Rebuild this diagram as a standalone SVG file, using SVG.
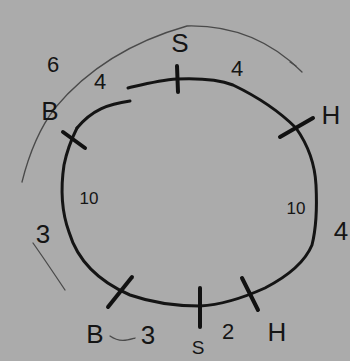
<svg xmlns="http://www.w3.org/2000/svg" width="350" height="361" viewBox="0 0 350 361">
<style>
.ink{fill:none;stroke:#141414;stroke-width:3;stroke-linecap:round;stroke-linejoin:round}
.tick{fill:none;stroke:#111;stroke-width:4;stroke-linecap:round}
.thin{fill:none;stroke:#4a4a4a;stroke-width:1.3;stroke-linecap:round}
.t{font-family:"Liberation Sans",Arial,sans-serif;fill:#151515;text-anchor:middle}
.big{font-size:26px}
.mid{font-size:22px}
.sm{font-size:17px}
</style>
<rect width="350" height="361" fill="#ababab"/>
<g id="outer-arc">
<path class="thin" d="M22,182 C30,150 42,125 55,108 C80,78 120,45 187,26 C230,25 270,40 302,72"/>
<path class="thin" d="M290,62 L296,66"/>
<path class="thin" d="M33,243 C45,260 55,275 65,290"/>
<path class="thin" d="M110,336 C120,343 128,340 135,338"/>
</g>
<g id="loop">
<path class="ink" d="M77,128 C92,110 108,104 130,101"/>
<path class="ink" d="M128,88 C145,84 160,80 177,79 C200,78 220,80 233,85 C260,98 280,112 296,128 C308,145 315,165 316,185 C317,205 317,225 312,245 C305,262 290,275 265,288 C245,297 220,305 200,306 C175,306 150,302 130,295 C100,282 78,262 69,232 C61,210 61,185 64,165 C67,150 72,138 77,128"/>
</g>
<g id="node-B-top"><path class="tick" d="M63,132 L85,148"/><text class="t big" x="50" y="120">B</text></g>
<g id="node-S-top"><path class="tick" d="M177,66 L178,92"/><text class="t big" x="180" y="52">S</text></g>
<g id="node-H-top"><path class="tick" d="M280,137 L313,118"/><text class="t big" x="331" y="124">H</text></g>
<g id="node-B-bottom"><path class="tick" d="M132,277 L108,307"/><text class="t big" x="95" y="343">B</text></g>
<g id="node-S-bottom"><path class="tick" d="M200,288 L200,327"/><text class="t" style="font-size:19px" x="198" y="354">S</text></g>
<g id="node-H-bottom"><path class="tick" d="M242,278 L258,310"/><text class="t big" x="277" y="341">H</text></g>
<g id="labels">
<text class="t mid" x="53" y="72">6</text>
<text class="t mid" x="100" y="89">4</text>
<text class="t mid" x="237" y="76">4</text>
<text class="t sm" x="89" y="204">10</text>
<text class="t sm" x="296" y="214">10</text>
<text class="t big" x="341" y="240">4</text>
<text class="t big" x="43" y="243">3</text>
<text class="t big" x="148" y="344">3</text>
<text class="t mid" x="228" y="339">2</text>
</g>
</svg>
